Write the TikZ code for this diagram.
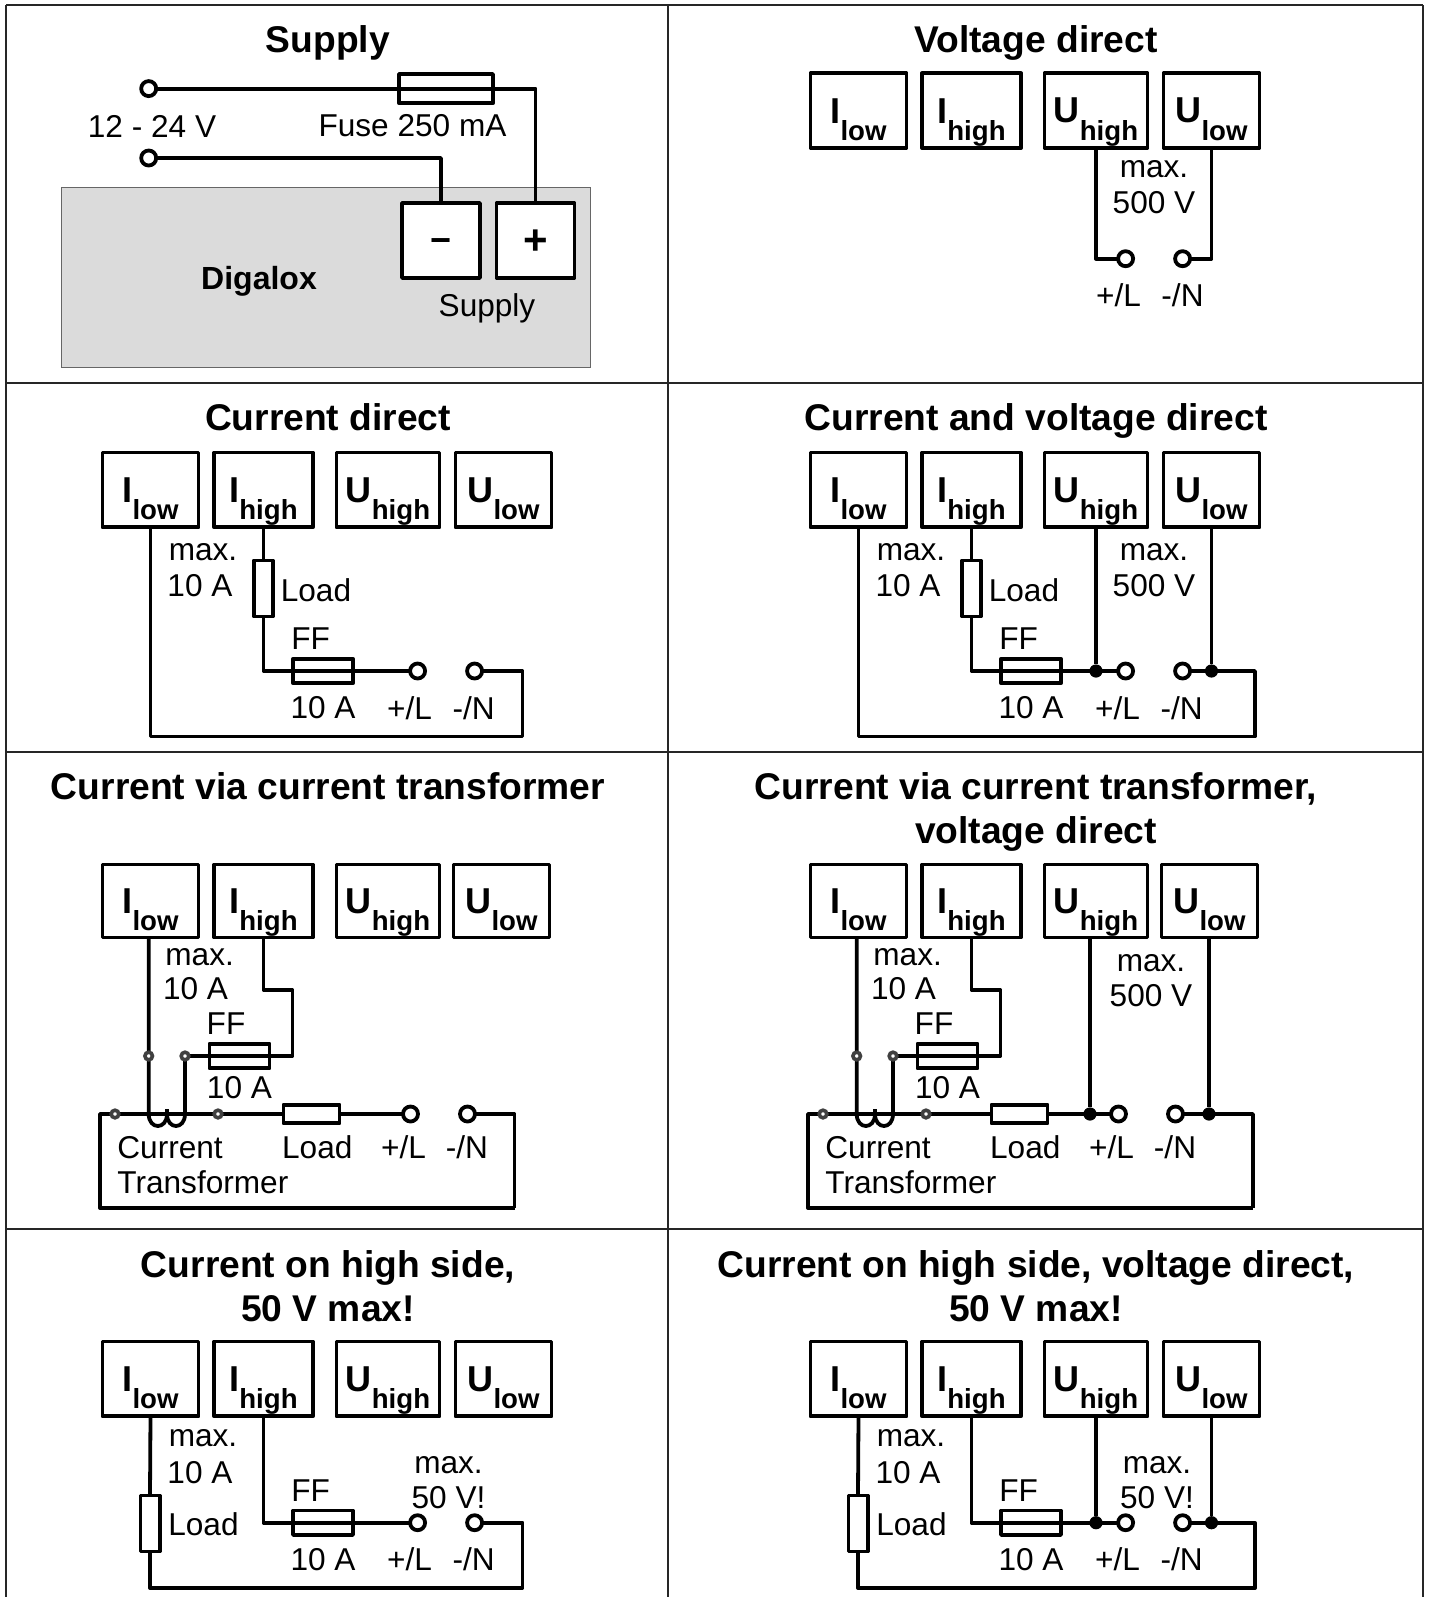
\documentclass[tikz,border=0pt]{standalone}
\usepackage{fontspec}
\setmainfont{Liberation Sans}

\newcommand{\termh}{37.4pt}

\tikzset{
	gridline/.style={draw=black!85, line width=0.65pt},
	wire/.style={line width=1.9pt, line join=round},
	termbox/.style={draw, line width=1.9pt, line join=round, minimum height=\termh, inner sep=0pt, outer sep=0pt, font=\bfseries},
	fuse/.style={draw, line width=1.9pt, line join=round, minimum width=30pt, minimum height=12.2pt, inner sep=0pt, outer sep=0pt},
	loadv/.style={draw, fill=white, line width=1.9pt, line join=round, minimum width=9.6pt, minimum height=28pt, inner sep=0pt, outer sep=0pt},
	loadh/.style={draw, fill=white, line width=1.9pt, line join=round, minimum width=28pt, minimum height=9.2pt, inner sep=0pt, outer sep=0pt},
	hole/.style={circle, draw, fill=white, line width=1.9pt, minimum size=7.5pt, inner sep=0pt, outer sep=0pt},
	tap/.style={circle, draw=black!75, fill=white, line width=1.8pt, minimum size=3.8pt, inner sep=0pt, outer sep=0pt},
	dot/.style={circle, fill=black, minimum size=6.6pt, inner sep=0pt, outer sep=0pt},
	lbl/.style={inner sep=0pt, font=\fontsize{15.8}{19}\selectfont},
	title/.style={inner sep=0pt, align=center, font=\fontsize{18.6}{21.9}\selectfont\bfseries}
}

\newcommand{\termtext}[2]{\fontsize{18}{20}\selectfont #1\smash{\raisebox{-8.8pt}{\fontsize{13.8}{16}\selectfont #2}}}

% The four terminals of one panel
\newcommand{\terminals}[3][503.5]{
	\node[termbox, minimum width=48pt, anchor=north] (#2-il) at (150.5, #3) {\termtext{I}{low}};
	\node[termbox, minimum width=49.5pt, anchor=north] (#2-ih) at (263.5, #3) {\termtext{I}{high}};
	\node[termbox, minimum width=51.5pt, anchor=north] (#2-uh) at (388, #3) {\termtext{U}{high}};
	\node[termbox, minimum width=48pt, anchor=north] (#2-ul) at (#1, #3) {\termtext{U}{low}};
}

% Current direct, also the base of the panel beside it
\newcommand{\directpanel}[2]{
	\terminals{#1}{452.5}
	\node[hole] (#1-pl) at (417.6, 671) {};
	\node[hole] (#1-mn) at (474.6, 671) {};
	\node[loadv] (#1-load) at (263.5, 588.5) {};
	\node[fuse] (#1-ff) at (323, 671) {};
	\coordinate (#1-end) at (#2, 736.4);
	\draw[wire] (#1-il.south) |- (#1-end) |- (#1-mn);
	\draw[wire] (#1-ih.south) -- (#1-load.north);
	\draw[wire] (#1-load.south) |- (#1-ff.west) -- (#1-ff.east) -- (#1-pl);
	\node[lbl] (#1-max) at (203, 552.5) {max.};
	\node[lbl] (#1-ia) at (200, 585.6) {10 A};
	\node[lbl] (#1-ltx) at (316, 590) {Load};
	\node[lbl] (#1-fft) at (310.6, 638.6) {FF};
	\node[lbl] (#1-fa) at (323, 708) {10 A};
	\node[lbl] (#1-plt) at (409.5, 708) {+/L};
	\node[lbl] (#1-mnt) at (473.6, 708) {-/N};
}

% Current via transformer
\newcommand{\transpanel}[3][501.5]{
	\renewcommand{\termh}{36.5pt}
	\terminals[#1]{#2}{864.5}
	\renewcommand{\termh}{37.4pt}
	\node[hole] (#2-pl) at (410.5, 1114) {};
	\node[hole] (#2-mn) at (467.5, 1114) {};
	\node[loadh] (#2-load) at (311.5, 1114) {};
	\node[fuse] (#2-ff) at (239.5, 1056) {};
	\coordinate (#2-lo) at (100, 1208);
	\coordinate (#2-end) at (#3, 1208);
	\coordinate (#2-ta) at (115, 1114);
	\coordinate (#2-tb) at (218, 1114);
	\coordinate (#2-tc) at (148.7, 1056);
	\coordinate (#2-td) at (185, 1056);
	\coordinate (#2-cl) at (148.7, 1114);
	\coordinate (#2-cm) at (167, 1114);
	\coordinate (#2-cr) at (185, 1114);
	\coordinate (#2-bk) at (292.5, 990);
	\draw[wire] (#2-lo -| #2-end) |- (#2-mn);
	\draw[wire] (#2-pl) -- (#2-load.east);
	\draw[wire] (#2-load.west) -- (100, 1114) -- (#2-lo) -- (#2-end);
	\draw[wire] (#2-il.south -| #2-tc) -- (#2-tc) -- (#2-cl) .. controls +(0, 16) and +(0, 16) .. (#2-cm)
		.. controls +(0, 16) and +(0, 16) .. (#2-cr) -- (#2-td);
	\draw[wire] (#2-cm) -- ++(0, -5);
	\draw[wire] (#2-td) -- (#2-ff.west) -- (#2-ff.east) -| (#2-bk) -- (#2-bk -| #2-ih.south) -- (#2-ih.south);
	\node[tap] (#2-na) at (#2-ta) {};
	\node[tap] (#2-nb) at (#2-tb) {};
	\node[tap] (#2-nc) at (#2-tc) {};
	\node[tap] (#2-nd) at (#2-td) {};
	\node[lbl] (#2-max) at (199.6, 957) {max.};
	\node[lbl] (#2-ia) at (195.6, 988.5) {10 A};
	\node[lbl] (#2-fft) at (226, 1023.6) {FF};
	\node[lbl] (#2-fa) at (239.5, 1087.5) {10 A};
	\node[lbl, anchor=west] (#2-cur) at (117, 1147.5) {Current};
	\node[lbl, anchor=west] (#2-tra) at (117, 1182.5) {Transformer};
	\node[lbl] (#2-ltx) at (317.3, 1147.5) {Load};
	\node[lbl] (#2-plt) at (403.5, 1147.5) {+/L};
	\node[lbl] (#2-mnt) at (467, 1147.5) {-/N};
}

% Current on high side
\newcommand{\highpanel}[2]{
	\terminals{#1}{1341.5}
	\node[hole] (#1-pl) at (417.6, 1522.7) {};
	\node[hole] (#1-mn) at (474.6, 1522.7) {};
	\node[loadv] (#1-load) at (150, 1523.5) {};
	\node[fuse] (#1-ff) at (323, 1522.7) {};
	\coordinate (#1-end) at (#2, 1588);
	\draw[wire] (#1-il.south) -- (#1-load.north);
	\draw[wire] (#1-load.south) |- (#1-end) |- (#1-mn);
	\draw[wire] (#1-ih.south) |- (#1-ff.west) -- (#1-ff.east) -- (#1-pl);
	\node[lbl] (#1-max) at (203, 1438.5) {max.};
	\node[lbl] (#1-ia) at (200, 1472.5) {10 A};
	\node[lbl] (#1-ltx) at (203.5, 1524.5) {Load};
	\node[lbl] (#1-fft) at (310.6, 1490.5) {FF};
	\node[lbl] (#1-fa) at (323, 1559.5) {10 A};
	\node[lbl] (#1-plt) at (409.5, 1559.5) {+/L};
	\node[lbl] (#1-mnt) at (473.6, 1559.5) {-/N};
}

\begin{document}
\begin{tikzpicture}[x=0.5pt, y=-0.5pt]
\useasboundingbox (0, 0) rectangle (1430, 1597);

% Table
\draw[gridline] (6, 5) -- (1423, 5);
\draw[gridline] (6, 5) -- (6, 1597);
\draw[gridline] (668, 5) -- (668, 1597);
\draw[gridline] (1423, 5) -- (1423, 1597);
\foreach \y in {383, 752, 1229} {
	\draw[gridline] (6, \y) -- (1423, \y);
}

% Supply
\node[title] (sup-title) at (328, 43) {Supply};
\draw[draw=black!60, fill=black!14, line width=0.4pt] (61, 187.5) rectangle (590, 367);
\node[hole] (sup-a) at (148.7, 88.6) {};
\node[hole] (sup-b) at (148.7, 158) {};
\node[termbox, minimum width=39pt, fill=white] (sup-minus) at (441, 240.5) {\fontsize{18}{20}\selectfont\smash{\raisebox{-5.8pt}{−}}};
\node[termbox, minimum width=39pt, fill=white] (sup-plus) at (535.5, 240.5) {\fontsize{21}{23}\selectfont\smash{\raisebox{-7pt}{+}}};
\node[fuse, minimum width=47pt, minimum height=14.6pt] (sup-fuse) at (446, 88.6) {};
\draw[wire] (sup-a) -- (sup-fuse.west) -- (sup-fuse.east) -| (sup-plus.north);
\draw[wire] (sup-b) -| (sup-minus.north);
\node[lbl] (sup-v) at (152, 126) {12 - 24 V};
\node[lbl] (sup-ft) at (412.5, 126) {Fuse 250 mA};
\node[lbl, font=\fontsize{16}{19}\selectfont\bfseries] (sup-dig) at (259, 281) {Digalox};
\node[lbl] (sup-st) at (487, 308) {Supply};

% Current direct
\node[title] (cd-title) at (328, 417.6) {Current direct};
\directpanel{cd}{522.5}

% Current via transformer
\node[title] (ct-title) at (328, 786) {Current via current transformer};
\transpanel{ct}{514.5}

% Current on high side
\node[title] (ch-title) at (328, 1286) {Current on high side,~\\50 V max!};
\highpanel{ch}{522.5}
\node[lbl] (ch-vm) at (448.5, 1465.5) {max.};
\node[lbl] (ch-vv) at (448.5, 1498) {50 V!};

\begin{scope}[shift={(708, 0)}]

% Voltage direct
\node[title] (vd-title) at (328, 43) {Voltage direct};
\terminals{vd}{73.3}
\node[hole] (vd-pl) at (417.6, 258.7) {};
\node[hole] (vd-mn) at (474.6, 258.7) {};
\draw[wire] (vd-uh.south) |- (vd-pl);
\draw[wire] (vd-ul.south) |- (vd-mn);
\node[lbl] (vd-max) at (446, 169.5) {max.};
\node[lbl] (vd-vv) at (446, 203) {500 V};
\node[lbl] (vd-plt) at (410.5, 295.4) {+/L};
\node[lbl] (vd-mnt) at (474.5, 295.4) {-/N};

% Current and voltage direct
\node[title] (cv-title) at (328, 420.6) {Current and voltage direct};
\directpanel{cv}{547}
\node[dot] (cv-da) at (cv-uh.south |- cv-pl) {};
\node[dot] (cv-db) at (cv-ul.south |- cv-mn) {};
\draw[wire] (cv-uh.south) -- (cv-da);
\draw[wire] (cv-ul.south) -- (cv-db);
\node[lbl] (cv-max) at (446, 552.5) {max.};
\node[lbl] (cv-vv) at (446, 585.6) {500 V};

% Current via transformer, voltage direct
\node[title] (cw-title) at (328, 812) {Current via current transformer,\\voltage direct};
\transpanel{cw}{545}
\node[dot] (cw-da) at (382, 1114) {};
\node[dot] (cw-db) at (501, 1114) {};
\draw[wire] (cw-da |- cw-uh.south) -- (cw-da);
\draw[wire] (cw-db |- cw-ul.south) -- (cw-db);
\node[lbl] (cw-max) at (443, 963) {max.};
\node[lbl] (cw-vv) at (443, 995.5) {500 V};

% Current on high side, voltage direct
\node[title] (cx-title) at (328, 1286) {Current on high side, voltage direct,\\50 V max!};
\highpanel{cx}{547}
\node[dot] (cx-da) at (cx-uh.south |- cx-pl) {};
\node[dot] (cx-db) at (cx-ul.south |- cx-mn) {};
\draw[wire] (cx-uh.south) -- (cx-da);
\draw[wire] (cx-ul.south) -- (cx-db);
\node[lbl] (cx-vm) at (449, 1465.5) {max.};
\node[lbl] (cx-vv) at (449, 1498) {50 V!};

\end{scope}

\end{tikzpicture}
\end{document}
